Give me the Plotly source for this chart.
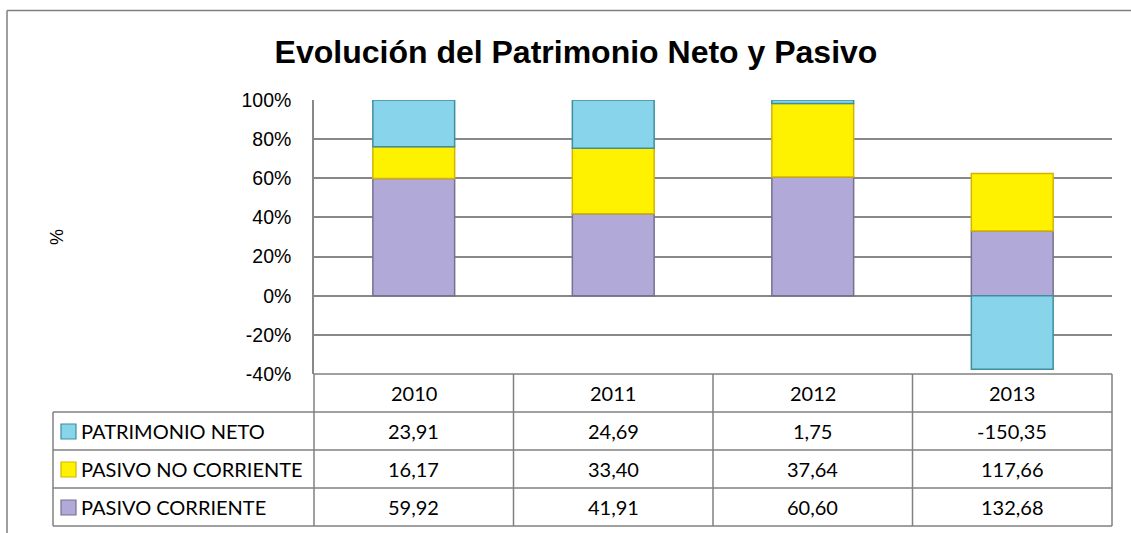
import plotly.graph_objects as go

# ---------------- data ----------------
years = ["2010", "2011", "2012", "2013"]
series_names = ["PATRIMONIO NETO", "PASIVO NO CORRIENTE", "PASIVO CORRIENTE"]
patrimonio_neto = [23.91, 24.69, 1.75, -150.35]
pasivo_no_corriente = [16.17, 33.40, 37.64, 117.66]
pasivo_corriente = [59.92, 41.91, 60.60, 132.68]
y_ticks = [-40, -20, 0, 20, 40, 60, 80, 100]

# ---------------- styles ----------------
W, H = 1131, 533
PL, PR, PT, PB = 314, 1112, 100, 374  # plot area in pixels
fill_cols = {"PATRIMONIO NETO": "#88D4EA", "PASIVO NO CORRIENTE": "#FFF200", "PASIVO CORRIENTE": "#B1A9D7"}
line_cols = {"PATRIMONIO NETO": "#3F8E9E", "PASIVO NO CORRIENTE": "#D4B300", "PASIVO CORRIENTE": "#77718F"}
grid_col = "#888888"
table_col = "#808080"
TABLE_FONT = "Lato, Calibri, 'Liberation Sans', sans-serif"
AXIS_FONT = "Arial, 'Liberation Sans', sans-serif"

# Excel-like 100% stacked: share of sum of absolute values
totals = [abs(a) + abs(b) + abs(c) for a, b, c in zip(patrimonio_neto, pasivo_no_corriente, pasivo_corriente)]
def pct(vals):
    return [v / t * 100 for v, t in zip(vals, totals)]

fig = go.Figure()
for name, vals in [("PASIVO CORRIENTE", pasivo_corriente),
                   ("PASIVO NO CORRIENTE", pasivo_no_corriente),
                   ("PATRIMONIO NETO", patrimonio_neto)]:
    fig.add_trace(go.Bar(
        x=years, y=pct(vals), name=name, width=0.41,
        marker=dict(color=fill_cols[name], line=dict(color=line_cols[name], width=1.5)),
        cliponaxis=True, showlegend=False,
    ))

def px_x(px):
    return (px - PL) / (PR - PL)

def px_y(py):
    return (PB - py) / (PB - PT)

shapes = []
annotations = []

# outer chart border (extends beyond the image right/bottom)
shapes.append(dict(type="line", xref="paper", yref="paper", x0=px_x(7), x1=px_x(7), y0=px_y(10.5), y1=px_y(540),
                   line=dict(color="#7F7F7F", width=1.5)))
shapes.append(dict(type="line", xref="paper", yref="paper", x0=px_x(7), x1=px_x(1140), y0=px_y(10.5), y1=px_y(10.5),
                   line=dict(color="#7F7F7F", width=1.5)))

# table geometry
col_edges = [PL + i * (PR - PL) / len(years) for i in range(len(years) + 1)]
row_edges = [374, 412, 450, 488, 526]
LEG_L = 53

def hline(y, x0, x1):
    shapes.append(dict(type="line", xref="paper", yref="paper", x0=px_x(x0), x1=px_x(x1), y0=px_y(y), y1=px_y(y),
                       line=dict(color=table_col, width=1.5)))

def vline(x, y0, y1):
    shapes.append(dict(type="line", xref="paper", yref="paper", x0=px_x(x), x1=px_x(x), y0=px_y(y0), y1=px_y(y1),
                       line=dict(color=table_col, width=1.5)))

hline(row_edges[0], PL, PR)
for r in row_edges[1:]:
    hline(r, LEG_L, PR)
for c in col_edges:
    vline(c, row_edges[0], row_edges[-1])
vline(LEG_L, row_edges[1], row_edges[-1])

TFS = 20
# header years
for i, yr in enumerate(years):
    annotations.append(dict(text=yr, xref="paper", yref="paper",
                            x=px_x((col_edges[i] + col_edges[i + 1]) / 2), y=px_y((row_edges[0] + row_edges[1]) / 2),
                            showarrow=False, font=dict(family=TABLE_FONT, size=TFS, color="#000000"),
                            xanchor="center", yanchor="middle"))

table_rows = [("PATRIMONIO NETO", patrimonio_neto),
              ("PASIVO NO CORRIENTE", pasivo_no_corriente),
              ("PASIVO CORRIENTE", pasivo_corriente)]
for r, (name, vals) in enumerate(table_rows):
    yc = (row_edges[r + 1] + row_edges[r + 2]) / 2
    # legend key
    shapes.append(dict(type="rect", xref="paper", yref="paper",
                       x0=px_x(61), x1=px_x(76), y0=px_y(yc - 7), y1=px_y(yc + 8),
                       fillcolor=fill_cols[name], line=dict(color=line_cols[name], width=1.2)))
    annotations.append(dict(text=name, xref="paper", yref="paper", x=px_x(79), y=px_y(yc),
                            showarrow=False, font=dict(family=TABLE_FONT, size=TFS, color="#000000"),
                            xanchor="left", yanchor="middle"))
    for i, v in enumerate(vals):
        annotations.append(dict(text=f"{v:.2f}".replace(".", ","), xref="paper", yref="paper",
                                x=px_x((col_edges[i] + col_edges[i + 1]) / 2), y=px_y(yc),
                                showarrow=False, font=dict(family=TABLE_FONT, size=TFS, color="#000000"),
                                xanchor="center", yanchor="middle"))

# y-axis title
annotations.append(dict(text="%", xref="paper", yref="paper", x=px_x(57), y=px_y(237), textangle=-90,
                        showarrow=False, font=dict(family=AXIS_FONT, size=18, color="#000000"),
                        xanchor="center", yanchor="middle"))

fig.update_layout(
    width=W, height=H,
    margin=dict(l=PL, r=W - PR, t=PT, b=H - PB, pad=0),
    paper_bgcolor="#FFFFFF", plot_bgcolor="#FFFFFF",
    barmode="relative", bargap=0.59,
    title=dict(text="<b>Evolución del Patrimonio Neto y Pasivo</b>", x=576 / W, xanchor="center",
               y=1 - 52 / H, yanchor="middle", xref="container", yref="container",
               font=dict(family=AXIS_FONT, size=32, color="#000000")),
    xaxis=dict(showticklabels=False, showgrid=False, zeroline=False, showline=False, ticks=""),
    yaxis=dict(range=[-40, 100], tickvals=y_ticks, ticktext=[f"{t}%" for t in y_ticks],
               showgrid=True, gridcolor=grid_col, gridwidth=1.5, zeroline=False,
               showline=True, linecolor=grid_col, linewidth=1.5, ticks="",
               ticklabelstandoff=17,
               tickfont=dict(family=AXIS_FONT, size=19.5, color="#000000")),
    shapes=shapes, annotations=annotations,
)

fig.write_html("out.html", config={"displayModeBar": False},
               post_script="document.body.style.margin='0';document.body.style.overflow='hidden';")
